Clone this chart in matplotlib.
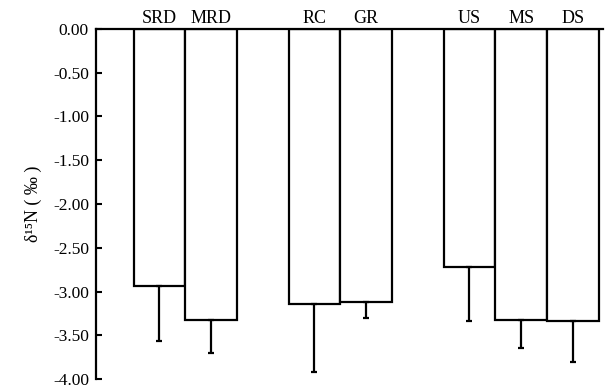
import numpy as np
import matplotlib.pyplot as plt

# Data
sites = ['SRD', 'MRD', 'RC', 'GR', 'US', 'MS', 'DS']
d15n_mean = [-2.94, -3.32, -3.14, -3.12, -2.72, -3.32, -3.34]
d15n_sd = [0.62, 0.38, 0.78, 0.18, 0.62, 0.32, 0.47]
positions = [0, 1, 3, 4, 6, 7, 8]
yticks = [0.0, -0.5, -1.0, -1.5, -2.0, -2.5, -3.0, -3.5, -4.0]

plt.rcParams['font.family'] = ['Liberation Serif', 'DejaVu Serif']

fig = plt.figure(figsize=(6.07, 3.86), dpi=100)
ax = fig.add_axes([0.158, 0.018, 0.835, 0.907])

# error bars only go downward
yerr = [d15n_sd, [0] * len(d15n_sd)]
ax.bar(positions, d15n_mean, width=1.0, color='white', edgecolor='black',
       linewidth=1.6, yerr=yerr, error_kw=dict(ecolor='black', elinewidth=1.6,
                                               capsize=2, capthick=1.6))

for p, s in zip(positions, sites):
    ax.text(p, 0.065, s, ha='center', va='baseline', fontsize=13)

ax.set_xlim(-1.23, 8.58)
ax.set_ylim(-4.0, 0.0)
ax.set_yticks(yticks)
ax.set_yticklabels(['%.2f' % v for v in yticks], fontsize=12.5)
ax.set_xticks([])
ax.tick_params(axis='y', direction='in', length=4, width=1.5, pad=5)

ax.spines['right'].set_visible(False)
ax.spines['bottom'].set_visible(False)
ax.spines['left'].set_linewidth(1.6)
ax.spines['top'].set_linewidth(1.6)

ax.set_ylabel('δ¹⁵N ( ‰ )', fontsize=13, labelpad=8)

fig.savefig('out.png', dpi=100)
